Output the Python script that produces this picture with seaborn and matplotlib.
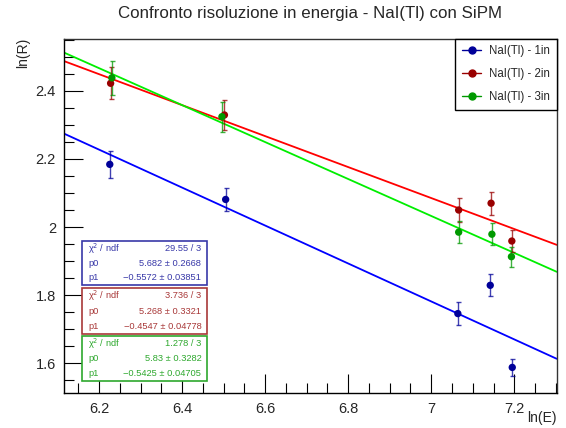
import numpy as np
import pandas as pd
import seaborn as sns
import matplotlib
matplotlib.use("Agg")
import matplotlib.pyplot as plt
from matplotlib.patches import Rectangle
from matplotlib.lines import Line2D
from matplotlib.ticker import MultipleLocator, FuncFormatter

# measured points, ln(E) vs ln(R)
labels = ["NaI(Tl) - 1in", "NaI(Tl) - 2in", "NaI(Tl) - 3in"]
x_1in = [6.226, 6.505, 7.064, 7.142, 7.195]
y_1in = [2.184, 2.081, 1.746, 1.829, 1.588]
e_1in = [0.039, 0.033, 0.033, 0.032, 0.025]
x_2in = [6.228, 6.502, 7.066, 7.144, 7.194]
y_2in = [2.422, 2.329, 2.050, 2.070, 1.959]
e_2in = [0.047, 0.045, 0.034, 0.034, 0.032]
x_3in = [6.231, 6.496, 7.066, 7.146, 7.193]
y_3in = [2.438, 2.324, 1.985, 1.979, 1.913]
e_3in = [0.050, 0.044, 0.032, 0.033, 0.029]

# fit results (pol1)
chi2 = ["29.55 / 3", "3.736 / 3", "1.278 / 3"]
p0 = [5.682, 5.268, 5.83]
p1 = [-0.5572, -0.4547, -0.5425]
p0_txt = ["5.682 \u00b1 0.2668", "5.268 \u00b1 0.3321", "5.83 \u00b1 0.3282"]
p1_txt = ["\u22120.5572 \u00b1 0.03851", "\u22120.4547 \u00b1 0.04778", "\u22120.5425 \u00b1 0.04705"]

mark_cols = ["#000099", "#990000", "#009900"]
line_cols = ["#0000ff", "#ff0000", "#00ee00"]
stat_cols = ["#3838a8", "#a83838", "#2ea82e"]

xmin, xmax = 6.1165, 7.302
ymin, ymax = 1.512, 2.552

sns.set_style("white")
plt.rcParams["font.family"] = ["Liberation Sans", "DejaVu Sans"]

W, H = 566, 428
fig = plt.figure(figsize=(W / 100, H / 100), dpi=100)
ax = fig.add_axes([64.3 / W, 1 - 393.3 / H, (556.7 - 64.3) / W, (393.3 - 39) / H])

xs = [x_1in, x_2in, x_3in]
ys = [y_1in, y_2in, y_3in]
es = [e_1in, e_2in, e_3in]

xfit = np.linspace(xmin, xmax, 50)
for i in range(3):
    fit = pd.DataFrame({"x": xfit, "y": p0[i] + p1[i] * xfit})
    sns.lineplot(data=fit, x="x", y="y", color=line_cols[i], lw=1.3, ax=ax, zorder=2)

for i in range(3):
    ax.errorbar(xs[i], ys[i], yerr=es[i], fmt="none", ecolor=mark_cols[i],
                elinewidth=1.0, capsize=1.8, capthick=1.0, alpha=0.75, zorder=3)
    df = pd.DataFrame({"x": xs[i], "y": ys[i]})
    sns.scatterplot(data=df, x="x", y="y", color=mark_cols[i], s=28,
                    edgecolor="none", ax=ax, zorder=4)

ax.set_xlim(xmin, xmax)
ax.set_ylim(ymin, ymax)
ax.set_xlabel("")
ax.set_ylabel("")

ax.xaxis.set_major_locator(MultipleLocator(0.2))
ax.xaxis.set_minor_locator(MultipleLocator(0.05))
ax.yaxis.set_major_locator(MultipleLocator(0.2))
ax.yaxis.set_minor_locator(MultipleLocator(0.05))
fmt = FuncFormatter(lambda v, p: ("%g" % round(v, 2)))
ax.xaxis.set_major_formatter(fmt)
ax.yaxis.set_major_formatter(fmt)
ax.tick_params(which="both", direction="in", bottom=True, left=True, top=False, right=False,
               width=0.8, color="black", labelsize=10.5)
ax.tick_params(which="major", length=14, pad=6)
ax.tick_params(which="minor", length=7)
for sp in ax.spines.values():
    sp.set_color("#333333")
    sp.set_linewidth(1.0)
ax.spines["left"].set_color("black")
ax.spines["bottom"].set_color("black")

fig.text(310.5 / W, 1 - 13.5 / H, "Confronto risoluzione in energia - NaI(Tl) con SiPM",
         ha="center", va="center", fontsize=12.2)
fig.text(23 / W, 1 - 38 / H, "ln(R)", rotation=90, ha="center", va="top", fontsize=10)
fig.text(557 / W, 1 - 418 / H, "ln(E)", ha="right", va="center", fontsize=10)

handles = [Line2D([], [], color=mark_cols[i], marker="o", markersize=5, lw=1.0) for i in range(3)]
leg = ax.legend(handles, labels, loc="upper right", borderaxespad=0, fancybox=False,
                framealpha=1, edgecolor="black", fontsize=8.3, handlelength=1.7,
                handletextpad=0.7, labelspacing=0.95, borderpad=0.55)
leg.get_frame().set_linewidth(1.0)

# stat boxes
boxes = [(241, 285), (288, 334), (336, 381)]
bx0, bx1 = 82.3, 207.3
for i in range(3):
    t, b = boxes[i]
    fig.patches.append(Rectangle((bx0 / W, 1 - b / H), (bx1 - bx0) / W, (b - t) / H,
                                 transform=fig.transFigure, facecolor="white",
                                 edgecolor=stat_cols[i], lw=1.2, zorder=10))
    rows = [("\u03c7$^{2}$ / ndf", chi2[i]), ("p0", p0_txt[i]), ("p1", p1_txt[i])]
    h = (b - t) / 3
    for j, (a, v) in enumerate(rows):
        yy = 1 - (t + h * (j + 0.5)) / H
        fig.text((bx0 + 6) / W, yy, a, ha="left", va="center", fontsize=6.7,
                 color=stat_cols[i], zorder=11)
        fig.text((bx1 - 6) / W, yy, v, ha="right", va="center", fontsize=6.7,
                 color=stat_cols[i], zorder=11)

fig.savefig("out.png", dpi=100)
